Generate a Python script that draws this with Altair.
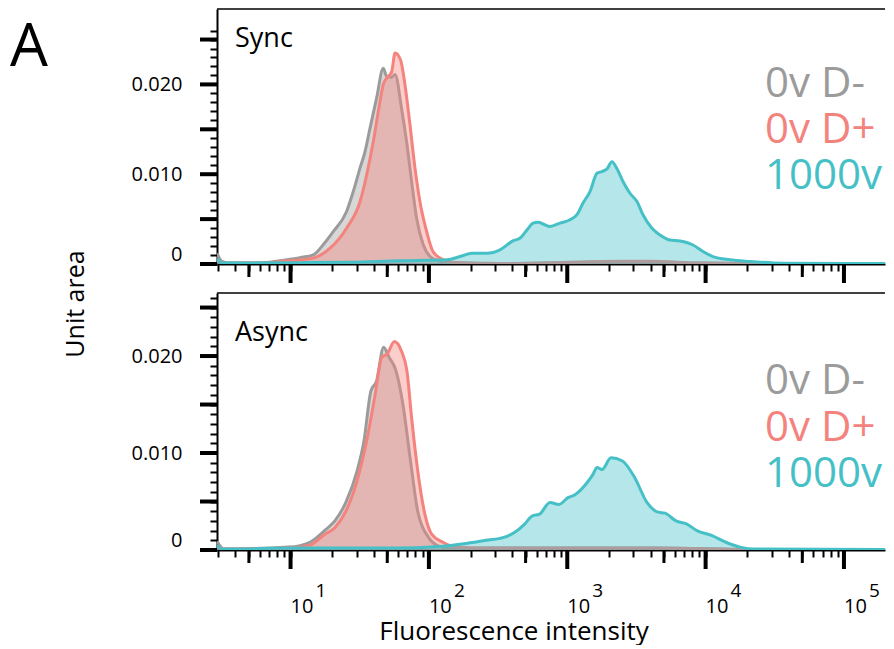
import altair as alt
import pandas as pd

# ---------------- data ----------------
SERIES = ["0v D-", "0v D+", "1000v"]
COLORS = {"0v D-": "#9b9b9b", "0v D+": "#f4837e", "1000v": "#46c0c7"}

# Sync panel
sync_dneg_x = [2.94, 3.19, 3.65, 5.09, 7.10, 8.38, 11.7, 14.6, 17.2, 20.4, 25.4, 28.4, 31.8, 34.5, 37.5, 41.9, 46.8, 49.5, 53.8, 56.9, 63.5, 69.0, 75.0, 81.5, 91.0, 102, 117, 149, 326, 1722, 3945, 9093, 34400, 198000]
sync_dneg_y = [0.0012, 0.0003, 0.0001, 0.0001, 0.0002, 0.00036, 0.0007, 0.00102, 0.00214, 0.00362, 0.00585, 0.00807, 0.0107, 0.0125, 0.0151, 0.0185, 0.0218, 0.0209, 0.0208, 0.0211, 0.0173, 0.0136, 0.00919, 0.0051, 0.00214, 0.00083, 0.00036, 0.0001, 0.00005, 0.0002, 0.00025, 0.0001, 0.00002, 0.0]

sync_dpos_x = [2.94, 3.65, 5.09, 7.10, 8.38, 11.7, 14.6, 19.3, 25.4, 31.8, 35.5, 39.6, 44.3, 46.8, 49.5, 53.8, 56.9, 62.5, 67.1, 73.0, 79.3, 86.1, 96.3, 107, 127, 149, 326, 2400, 3945, 9093, 198000]
sync_dpos_y = [0.0003, 0.0001, 0.0001, 0.00015, 0.00028, 0.00045, 0.00065, 0.00176, 0.00399, 0.00696, 0.00993, 0.0136, 0.0181, 0.0200, 0.0207, 0.0214, 0.0235, 0.0227, 0.0200, 0.0155, 0.0107, 0.00696, 0.00362, 0.00139, 0.00047, 0.0002, 0.00005, 0.0003, 0.0003, 0.0001, 0.0]

sync_1000_x = [2.94, 3.19, 5.09, 11.7, 26.9, 61.8, 135, 168, 205, 263, 326, 405, 455, 520, 565, 614, 750, 886, 1047, 1175, 1300, 1460, 1640, 1783, 1938, 2105, 2288, 2528, 2839, 3190, 3526, 4096, 4677, 5523, 6529, 8110, 9570, 11300, 15000, 20900, 36200, 110000, 198000]
sync_1000_y = [0.0006, 0.00015, 0.0001, 0.00015, 0.0002, 0.00036, 0.00047, 0.00083, 0.0012, 0.0012, 0.00158, 0.00258, 0.00287, 0.00393, 0.00455, 0.00466, 0.00418, 0.00455, 0.00493, 0.00549, 0.00679, 0.00807, 0.0101, 0.0103, 0.0106, 0.0114, 0.0106, 0.00919, 0.00788, 0.00696, 0.00549, 0.00398, 0.00323, 0.00267, 0.00256, 0.00212, 0.00139, 0.00083, 0.00047, 0.00028, 0.00009, 0.00005, 0.00005]

# Async panel
async_dneg_x = [2.94, 3.30, 9.74, 13.8, 17.6, 20.9, 25.1, 30.2, 33.9, 38.1, 41.8, 47.1, 51.4, 57.8, 64.9, 73.6, 83.0, 99.3, 118, 151, 250, 3000, 4500, 20000, 198000]
async_dneg_y = [0.0009, 0.0001, 0.0003, 0.0008, 0.0020, 0.0030, 0.0049, 0.0081, 0.0112, 0.0164, 0.0174, 0.0209, 0.0199, 0.0185, 0.0150, 0.0092, 0.0040, 0.0013, 0.0004, 0.0001, 0.0002, 0.0002, 0.0002, 0.00005, 0.0]

async_dpos_x = [2.94, 3.30, 9.74, 13.8, 17.6, 20.9, 25.1, 30.2, 35.9, 40.5, 45.8, 49.8, 56.3, 63.4, 69.3, 75.4, 83.0, 93.5, 105, 126, 160, 250, 3000, 4500, 20000, 198000]
async_dpos_y = [0.0003, 0.0001, 0.0002, 0.0005, 0.0016, 0.0023, 0.0040, 0.0071, 0.0116, 0.0157, 0.0199, 0.0202, 0.0215, 0.0205, 0.0185, 0.0133, 0.0082, 0.0037, 0.0016, 0.0008, 0.0003, 0.0002, 0.0002, 0.0002, 0.00005, 0.0]

async_1000_x = [2.94, 3.19, 11.7, 61.8, 105, 191, 258, 348, 415, 494, 556, 631, 750, 871, 1012, 1137, 1366, 1534, 1640, 1783, 2072, 2489, 3063, 3768, 4525, 5085, 6107, 7277, 8657, 11040, 14030, 17710, 22740, 198000]
async_1000_y = [0.0005, 0.0001, 0.0002, 0.0002, 0.0003, 0.0007, 0.0010, 0.0013, 0.0018, 0.0027, 0.0035, 0.0037, 0.0049, 0.0047, 0.0054, 0.0057, 0.0068, 0.0078, 0.0085, 0.0083, 0.0095, 0.0092, 0.0075, 0.0049, 0.0039, 0.0038, 0.0030, 0.0027, 0.0020, 0.0015, 0.0008, 0.0003, 0.0001, 0.00005]

# axis ticks / labels
X_DOMAIN = [2.94, 198000]
major_x = [10, 100, 1000, 10000, 100000]
medium_x = [5, 50, 500, 5000, 50000]
exp_labels = ["1", "2", "3", "4", "5"]
x_tick_values = [m * 10 ** e for e in range(0, 6) for m in range(1, 10)
                 if X_DOMAIN[0] <= m * 10 ** e <= X_DOMAIN[1]]
y_tick_values = [round(i * 0.001, 3) for i in range(27)]
y_major = [0.0, 0.005, 0.01, 0.015, 0.02, 0.025]

FONT = "Open Sans"
W = 668

x_scale = alt.Scale(type="log", domain=X_DOMAIN)

x_axis = alt.Axis(
    values=x_tick_values, labels=False, title=None, grid=False,
    domainColor="black", domainWidth=2, tickColor="black", tickSize=7, tickWidth=2,
)

y_axis = alt.Axis(
    values=y_tick_values, title=None, grid=False,
    domainColor="black", domainWidth=2, tickColor="black", tickSize=7, tickWidth=2,
    labelFontSize=20, labelPadding=28, labelColor="black", labelOverlap=False,
    labelBaseline={"condition": {"test": "datum.value == 0", "value": "bottom"}, "value": "middle"},
    labelExpr="datum.value == 0 ? '0' : ((round(datum.value*1000) % 10 == 0 && datum.value < 0.025) ? format(datum.value, '.3f') : '')",
)


def panel(curves, ymax, height, name, name_y, legend_ys, bottom):
    y_scale = alt.Scale(domain=[0, ymax])
    X = lambda: alt.X("intensity:Q", scale=x_scale, axis=x_axis)
    Y = lambda: alt.Y("density:Q", scale=y_scale, stack=None, axis=y_axis)
    layers = []
    for s in SERIES:
        xs, ys = curves[s]
        df = pd.DataFrame({"intensity": xs, "density": ys})
        base = alt.Chart(df)
        layers.append(base.mark_area(color=COLORS[s], fillOpacity=0.4, clip=True,
                                     interpolate="monotone").encode(x=X(), y=Y()))
        layers.append(base.mark_line(color=COLORS[s], strokeWidth=3, clip=True,
                                     interpolate="monotone", strokeJoin="round").encode(x=X(), y=Y()))

    # longer axis ticks (major / medium)
    layers.append(alt.Chart(pd.DataFrame({"density": y_major})).mark_rule(
        color="black", strokeWidth=4).encode(y=Y(), x=alt.value(0), x2=alt.value(-17)))
    layers.append(alt.Chart(pd.DataFrame({"intensity": major_x})).mark_rule(
        color="black", strokeWidth=4).encode(x=X(), y=alt.value(height), y2=alt.value(height + 19)))
    layers.append(alt.Chart(pd.DataFrame({"intensity": medium_x})).mark_rule(
        color="black", strokeWidth=3).encode(x=X(), y=alt.value(height), y2=alt.value(height + 13)))

    one = pd.DataFrame({"k": [0]})
    # top frame line
    layers.append(alt.Chart(one).mark_rule(color="black", strokeWidth=1.5).encode(
        x=alt.value(0), x2=alt.value(W), y=alt.value(0)))
    # panel name
    layers.append(alt.Chart(pd.DataFrame({"t": [name]})).mark_text(
        align="left", baseline="alphabetic", fontSize=27, font=FONT, color="black"
    ).encode(x=alt.value(18), y=alt.value(name_y), text="t:N"))
    # legend texts
    for s, ly in zip(SERIES, legend_ys):
        layers.append(alt.Chart(pd.DataFrame({"t": [s]})).mark_text(
            align="left", baseline="alphabetic", fontSize=42, font=FONT, color=COLORS[s]
        ).encode(x=alt.value(548), y=alt.value(ly), text="t:N"))

    if bottom:
        lab = pd.DataFrame({"intensity": major_x, "exp": exp_labels})
        layers.append(alt.Chart(lab).mark_text(
            align="left", baseline="alphabetic", fontSize=20, font=FONT, color="black", text="10"
        ).encode(x=X(), y=alt.value(height + 63)))
        layers.append(alt.Chart(lab).mark_text(
            align="left", baseline="alphabetic", fontSize=19, font=FONT, color="black", dx=25
        ).encode(x=X(), y=alt.value(height + 47), text="exp:N"))
        layers.append(alt.Chart(pd.DataFrame({"t": ["Fluorescence intensity"]})).mark_text(
            align="center", baseline="alphabetic", fontSize=26, font=FONT, color="black"
        ).encode(x=alt.value(297), y=alt.value(height + 90), text="t:N"))
    else:
        layers.append(alt.Chart(pd.DataFrame({"t": ["A"]})).mark_text(
            align="left", baseline="alphabetic", fontSize=60, font=FONT, color="black"
        ).encode(x=alt.value(-207), y=alt.value(57), text="t:N"))
        layers.append(alt.Chart(pd.DataFrame({"t": ["Unit area"]})).mark_text(
            align="center", baseline="alphabetic", fontSize=25, font=FONT, color="black", angle=270
        ).encode(x=alt.value(-133), y=alt.value(295), text="t:N"))

    return alt.layer(*layers).properties(width=W, height=height)


top = panel({"0v D-": (sync_dneg_x, sync_dneg_y),
             "0v D+": (sync_dpos_x, sync_dpos_y),
             "1000v": (sync_1000_x, sync_1000_y)},
            0.0284, 255, "Sync", 38, [88, 134, 180], False)
bot = panel({"0v D-": (async_dneg_x, async_dneg_y),
             "0v D+": (async_dpos_x, async_dpos_y),
             "1000v": (async_1000_x, async_1000_y)},
            0.0265, 257, "Async", 48, [101, 148, 194], True)

chart = alt.vconcat(top, bot, spacing=29, bounds="flush").properties(
    padding={"left": 2, "top": 0, "right": 0, "bottom": 0}
).configure(font=FONT).configure_view(stroke=None).configure_axis(labelFont=FONT)

chart.save("out.html", embed_options={"renderer": "svg", "actions": False})
